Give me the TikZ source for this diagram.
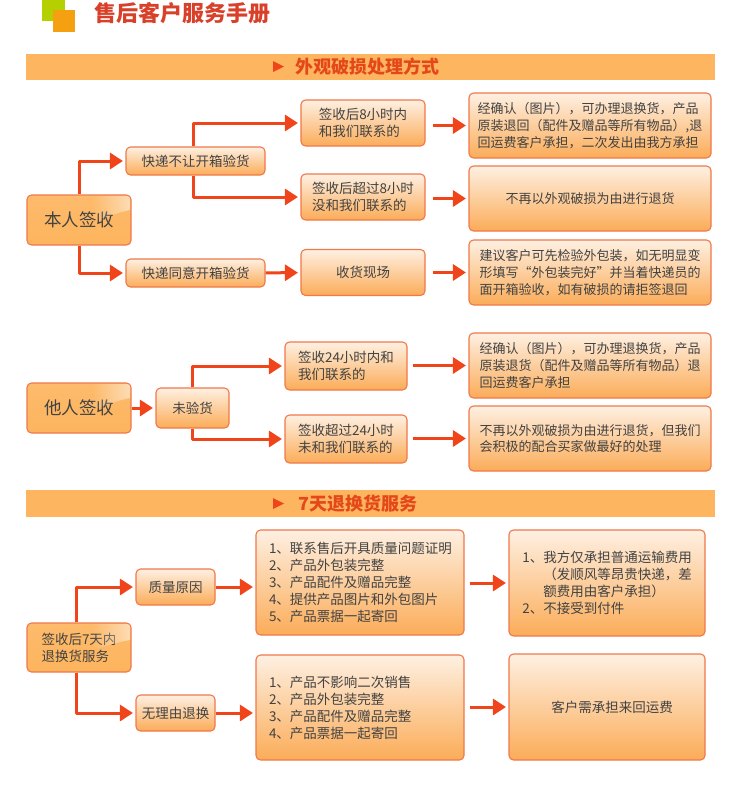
\documentclass[tikz,border=0pt]{standalone}
\usepackage{fontspec}
\setmainfont{Noto Sans CJK SC}
\usetikzlibrary{arrows.meta,fadings}
\definecolor{edge}{HTML}{F0784A}
\definecolor{flowline}{HTML}{F0451A}
\definecolor{bandfill}{HTML}{FDB55F}
\definecolor{bandtext}{HTML}{E4481A}
\definecolor{titletext}{HTML}{D8402A}
\definecolor{lime}{HTML}{B5D000}
\definecolor{amber}{HTML}{F5A010}
\definecolor{ink}{HTML}{424242}
\definecolor{boxhigh}{HTML}{FEF0E2}
\definecolor{boxlow}{HTML}{FBAC58}

\begin{document}
\begin{tikzpicture}[
  x=1pt, y=-1pt,
  line join=round,
  every node/.style={text=ink, inner sep=0pt, align=left},
  box/.style={draw=edge, line width=1.1pt, rounded corners=4.5pt, top color=boxhigh, bottom color=boxlow,
    font=\fontsize{13}{16.7}\selectfont},
  smallbox/.style={box, font=\fontsize{13.5}{17}\selectfont},
  mainbox/.style={draw=edge, line width=1.1pt, rounded corners=4.5pt, top color=bandfill!92!white, bottom color=bandfill!98!orange},
  flow/.style={draw=flowline, line width=3pt, -{Triangle[length=13pt,width=16pt]}, shorten >=2.5pt},
  gloss/.style={fill=white, fill opacity=0.5, path fading=west},
  band/.style={fill=bandfill},
  bandlabel/.style={text=bandtext, font=\fontsize{18}{20}\bfseries\selectfont},
]
\useasboundingbox (0,0) rectangle (741,790);

\fill[lime] (42,0) rectangle (65,21);
\fill[amber] (53,10) rectangle (75,32);
\node[anchor=west, text=titletext, font=\fontsize{22}{26}\bfseries\selectfont] (title) at (94,13) {售后客户服务手册};

\fill[band] (26,54) rectangle (715,80);
\fill[flowline] (273,61) -- (284,66.5) -- (273,72) -- cycle;
\node[anchor=west, bandlabel] (band1) at (295,66.5) {外观破损处理方式};

\node[mainbox, minimum width=104pt, minimum height=50pt, font=\fontsize{17.5}{20}\selectfont] (benren) at (79,220) {本人签收};
\fill[gloss] (92,196) -- (127,196) .. controls (129,196) and (130,197) .. (130,199) -- (130,210) .. controls (118,212) and (105,218) .. (92,222) -- cycle;
\node[smallbox, minimum width=139pt, minimum height=28pt] (bukai) at (195.5,161) {快递不让开箱验货};
\node[smallbox, minimum width=139pt, minimum height=28pt] (tongyi) at (195.5,273) {快递同意开箱验货};
\node[smallbox, minimum width=124pt, minimum height=46pt] (nei8) at (363,123) {签收后8小时内\\和我们联系的};
\node[smallbox, minimum width=124pt, minimum height=46pt] (chao8) at (363,197) {签收后超过8小时\\没和我们联系的};
\node[smallbox, minimum width=124pt, minimum height=46pt] (xianchang) at (363,272.5) {收货现场};
\node[box, minimum width=242pt, minimum height=65pt] (huan1) at (590,125.5) {经确认（图片），可办理退换货，产品\\原装退回（配件及赠品等所有物品）,退\\回运费客户承担，二次发出由我方承担};
\node[box, minimum width=242pt, minimum height=65pt] (butui1) at (590,198.5) {不再以外观破损为由进行退货};
\node[box, minimum width=242pt, minimum height=65pt] (jianyi) at (590,272.5) {建议客户可先检验外包装，如无明显变\\形填写“外包装完好”并当着快递员的\\面开箱验收，如有破损的请拒签退回};

\draw[flow] (benren) |- (bukai);
\draw[flow] (benren) |- (tongyi);
\draw[flow] ([xshift=-2.5pt]bukai.north) |- (nei8);
\draw[flow] ([xshift=-2.5pt]bukai.south) |- (chao8);
\draw[flow] (tongyi) -- (xianchang);
\draw[flow, shorten <=7pt] (nei8.east |- huan1) -- (huan1);
\draw[flow, shorten <=7pt] (chao8.east |- butui1) -- (butui1);
\draw[flow, shorten <=7pt] (xianchang) -- (jianyi);

\node[mainbox, minimum width=104pt, minimum height=50pt, font=\fontsize{17.5}{20}\selectfont] (taren) at (79,408) {他人签收};
\fill[gloss] (92,384) -- (127,384) .. controls (129,384) and (130,385) .. (130,387) -- (130,398) .. controls (118,400) and (105,406) .. (92,410) -- cycle;
\node[smallbox, minimum width=73pt, minimum height=40pt] (weiyan) at (192.5,408) {未验货};
\node[smallbox, minimum width=122pt, minimum height=48pt] (nei24) at (346,366) {签收24小时内和\\我们联系的};
\node[smallbox, minimum width=122pt, minimum height=48pt] (chao24) at (346,439) {签收超过24小时\\未和我们联系的};
\node[box, minimum width=242pt, minimum height=65pt, text width=221pt] (huan2) at (590,365.5) {经确认（图片），可办理退换货，产品\\原装退货（配件及赠品等所有物品）退\\回运费客户承担};
\node[box, minimum width=242pt, minimum height=65pt, text width=221pt] (butui2) at (590,438.5) {不再以外观破损为由进行退货，但我们\\会积极的配合买家做最好的处理};

\draw[flow] (taren) -- (weiyan);
\draw[flow] (weiyan) |- (nei24);
\draw[flow] (weiyan) |- (chao24);
\draw[flow, shorten <=5pt] (nei24.east |- huan2) -- (huan2);
\draw[flow, shorten <=5pt] (chao24.east |- butui2) -- (butui2);

\fill[band] (26,490) rectangle (715,517);
\fill[flowline] (273,498) -- (284,503.5) -- (273,509) -- cycle;
\node[anchor=west, bandlabel] (band2) at (298,503.5) {7天退换货服务};

\node[mainbox, minimum width=104pt, minimum height=49pt, font=\fontsize{13.5}{17}\selectfont] (qitian) at (79,647.5) {签收后7天内\\退换货服务};
\fill[gloss] (92,624) -- (127,624) .. controls (129,624) and (130,625) .. (130,627) -- (130,640) .. controls (118,642) and (105,646) .. (92,650) -- cycle;
\node[smallbox, minimum width=79pt, minimum height=36pt] (zhiliang) at (175.5,587) {质量原因};
\node[smallbox, minimum width=79pt, minimum height=36pt] (wuli) at (175.5,713) {无理由退换};
\node[smallbox, minimum width=208pt, minimum height=105pt, text width=182pt] (tiao1) at (360,582.5) {1、联系售后开具质量问题证明\\2、产品外包装完整\\3、产品配件及赠品完整\\4、提供产品图片和外包图片\\5、产品票据一起寄回};
\node[smallbox, minimum width=208pt, minimum height=105pt, text width=182pt] (tiao2) at (360,707.5) {1、产品不影响二次销售\\2、产品外包装完整\\3、产品配件及赠品完整\\4、产品票据一起寄回};
\node[smallbox, minimum width=196pt, minimum height=106pt] (yunfei) at (607,583) {1、我方仅承担普通运输费用\\\hphantom{1、}（发顺风等昂贵快递，差\\\hphantom{1、}额费用由客户承担）\\2、不接受到付件};
\node[smallbox, minimum width=196pt, minimum height=106pt] (laihui) at (607,707) {\hspace*{10pt}客户需承担来回运费};

\draw[flow] ([xshift=-3pt]qitian.north) |- (zhiliang);
\draw[flow] ([xshift=-3pt]qitian.south) |- (wuli);
\draw[flow] (zhiliang) -- (zhiliang -| tiao1.west);
\draw[flow] (wuli) -- (wuli -| tiao2.west);
\draw[flow, shorten <=5pt] (tiao1.east |- yunfei) -- (yunfei);
\draw[flow, shorten <=5pt] (tiao2.east |- laihui) -- (laihui);
\end{tikzpicture}
\end{document}
